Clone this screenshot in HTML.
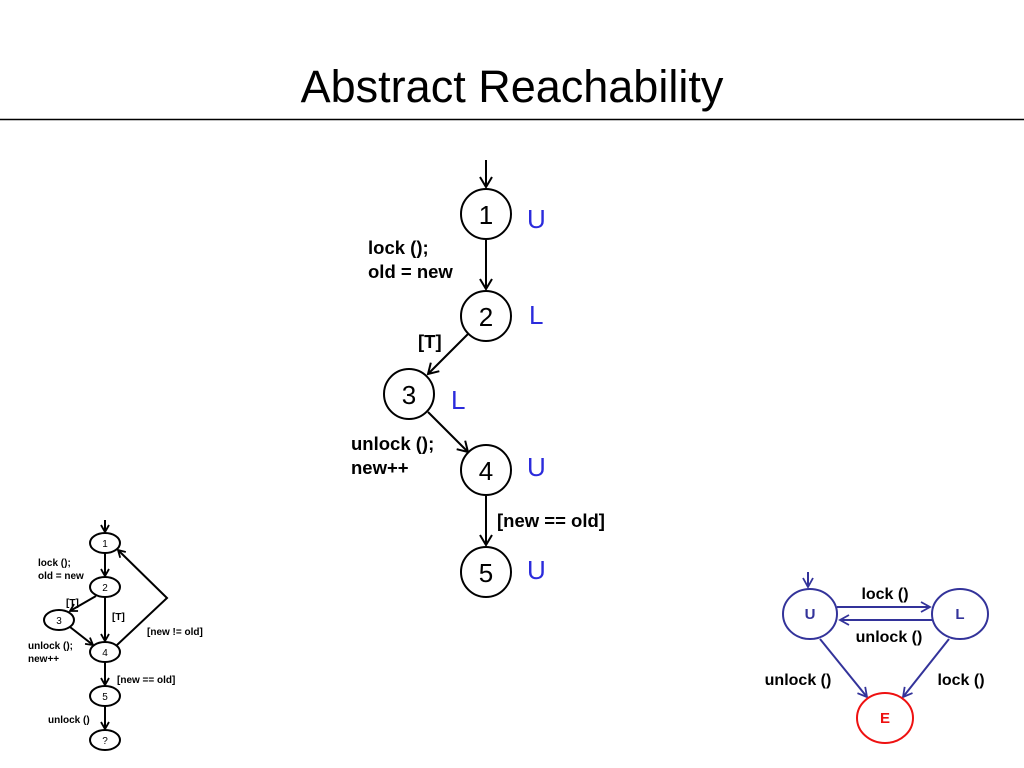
<!DOCTYPE html>
<html><head><meta charset="utf-8"><style>
html,body{margin:0;padding:0;background:#fff;}
svg{display:block;font-family:"Liberation Sans",Arial,sans-serif;}
</style></head><body>
<svg width="1024" height="768" viewBox="0 0 1024 768" xmlns="http://www.w3.org/2000/svg">
<defs>
<marker id="a" markerWidth="14" markerHeight="14" refX="11" refY="7" orient="auto" markerUnits="userSpaceOnUse">
<path d="M1,1 L11,7 L1,13" fill="none" stroke="#000" stroke-width="2"/></marker>
<marker id="s" markerWidth="10" markerHeight="10" refX="8" refY="5" orient="auto" markerUnits="userSpaceOnUse">
<path d="M1,1 L8,5 L1,9" fill="none" stroke="#000" stroke-width="1.8"/></marker>
<marker id="b" markerWidth="12" markerHeight="12" refX="10" refY="6" orient="auto" markerUnits="userSpaceOnUse">
<path d="M1,1 L10,6 L1,11" fill="none" stroke="#33339a" stroke-width="1.8"/></marker>
</defs>
<text x="512" y="102" font-size="45" text-anchor="middle">Abstract Reachability</text>
<line x1="0" y1="119.5" x2="1024" y2="119.5" stroke="#000" stroke-width="1.5"/>

<g stroke="#000" stroke-width="2" fill="none">
<line x1="486" y1="160" x2="486" y2="187" marker-end="url(#a)"/>
<line x1="486" y1="240" x2="486" y2="289" marker-end="url(#a)"/>
<line x1="468" y1="334" x2="428" y2="374" marker-end="url(#a)"/>
<line x1="428" y1="412" x2="468" y2="452" marker-end="url(#a)"/>
<line x1="486" y1="496" x2="486" y2="545" marker-end="url(#a)"/>
<circle cx="486" cy="214" r="25" fill="#fff"/>
<circle cx="486" cy="316" r="25" fill="#fff"/>
<circle cx="409" cy="394" r="25" fill="#fff"/>
<circle cx="486" cy="470" r="25" fill="#fff"/>
<circle cx="486" cy="572" r="25" fill="#fff"/>
</g>
<g font-size="26" text-anchor="middle">
<text x="486" y="224">1</text><text x="486" y="326">2</text><text x="409" y="404">3</text><text x="486" y="480">4</text><text x="486" y="582">5</text>
</g>
<g font-size="26" fill="#2b2bdc">
<text x="527" y="228">U</text><text x="529" y="324">L</text><text x="451" y="409">L</text><text x="527" y="476">U</text><text x="527" y="579">U</text>
</g>
<g font-size="18.5" font-weight="bold">
<text x="368" y="254">lock ();</text><text x="368" y="278">old = new</text>
<text x="418" y="348">[T]</text>
<text x="351" y="450">unlock ();</text><text x="351" y="474">new++</text>
<text x="497" y="527">[new == old]</text>
</g>

<g stroke="#000" stroke-width="2" fill="none">
<line x1="105" y1="520" x2="105" y2="532" marker-end="url(#s)"/>
<line x1="105" y1="553" x2="105" y2="576" marker-end="url(#s)"/>
<line x1="96" y1="596" x2="70" y2="611" marker-end="url(#s)"/>
<line x1="105" y1="597" x2="105" y2="641" marker-end="url(#s)"/>
<line x1="70" y1="627" x2="93" y2="645" marker-end="url(#s)"/>
<polyline points="117,645 167,598 118,550" marker-end="url(#s)"/>
<line x1="105" y1="662" x2="105" y2="685" marker-end="url(#s)"/>
<line x1="105" y1="706" x2="105" y2="729" marker-end="url(#s)"/>
<ellipse cx="105" cy="543" rx="15" ry="10" fill="#fff"/>
<ellipse cx="105" cy="587" rx="15" ry="10" fill="#fff"/>
<ellipse cx="59" cy="620" rx="15" ry="10" fill="#fff"/>
<ellipse cx="105" cy="652" rx="15" ry="10" fill="#fff"/>
<ellipse cx="105" cy="696" rx="15" ry="10" fill="#fff"/>
<ellipse cx="105" cy="740" rx="15" ry="10" fill="#fff"/>
</g>
<g font-size="10" text-anchor="middle">
<text x="105" y="547">1</text><text x="105" y="591">2</text><text x="59" y="624">3</text><text x="105" y="656">4</text><text x="105" y="700">5</text><text x="105" y="744">?</text>
</g>
<g font-size="10" font-weight="bold">
<text x="38" y="566">lock ();</text><text x="38" y="579">old = new</text>
<text x="66" y="606">[T]</text><text x="112" y="620">[T]</text>
<text x="147" y="635">[new != old]</text>
<text x="28" y="649">unlock ();</text><text x="28" y="662">new++</text>
<text x="117" y="683">[new == old]</text>
<text x="48" y="723">unlock ()</text>
</g>

<g stroke="#33339a" stroke-width="2" fill="none">
<line x1="808" y1="572" x2="808" y2="587" marker-end="url(#b)"/>
<line x1="837" y1="607" x2="930" y2="607" marker-end="url(#b)"/>
<line x1="933" y1="620" x2="840" y2="620" marker-end="url(#b)"/>
<line x1="820" y1="639" x2="867" y2="697" marker-end="url(#b)"/>
<line x1="949" y1="639" x2="903" y2="697" marker-end="url(#b)"/>
<ellipse cx="810" cy="614" rx="27" ry="25"/>
<ellipse cx="960" cy="614" rx="28" ry="25"/>
<ellipse cx="885" cy="718" rx="28" ry="25" stroke="#e11"/>
</g>
<g font-size="15" font-weight="bold" text-anchor="middle">
<text x="810" y="619" fill="#33339a">U</text><text x="960" y="619" fill="#33339a">L</text>
<text x="885" y="723" fill="#e11">E</text>
</g>
<g font-size="16" font-weight="bold" text-anchor="middle">
<text x="885" y="599">lock ()</text><text x="889" y="642">unlock ()</text>
<text x="798" y="685">unlock ()</text><text x="961" y="685">lock ()</text>
</g>
</svg>
</body></html>
